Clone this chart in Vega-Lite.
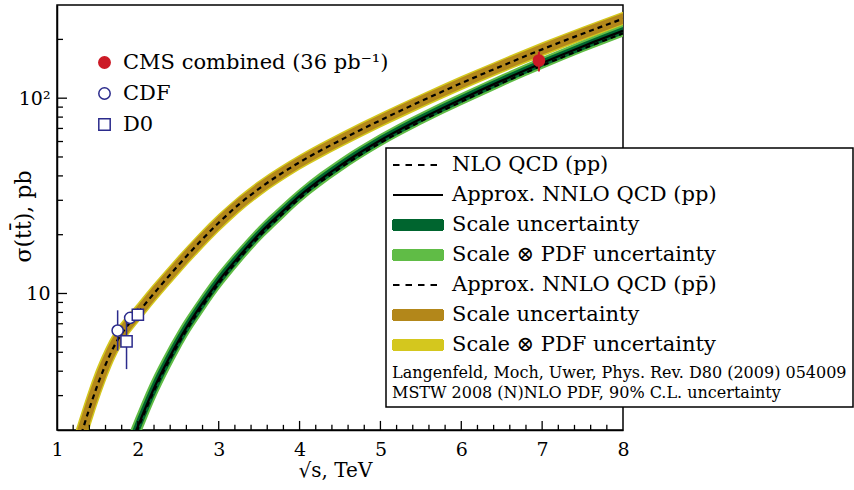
{
  "$schema": "https://vega.github.io/schema/vega-lite/v6.json",
  "width": 566,
  "height": 425,
  "autosize": {"type": "none"},
  "padding": {"left": 57, "top": 5, "right": 231, "bottom": 60},
  "background": "white",
  "config": {
    "view": {"stroke": "black", "strokeWidth": 1.5},
    "font": "DejaVu Serif",
    "axis": {"domainColor": "black", "domainWidth": 1.5, "grid": false, "ticks": false}
  },
  "resolve": {"axis": {"x": "independent", "y": "independent"}},
  "datasets": {
    "ppbar": [
      {"x": 1.2, "c": 1.413, "s_lo": 1.162, "s_hi": 1.718, "p_lo": 1.096, "p_hi": 1.821},
      {"x": 1.25, "c": 1.641, "s_lo": 1.349, "s_hi": 1.995, "p_lo": 1.273, "p_hi": 2.115},
      {"x": 1.3, "c": 1.905, "s_lo": 1.567, "s_hi": 2.317, "p_lo": 1.478, "p_hi": 2.456},
      {"x": 1.4, "c": 2.570, "s_lo": 2.129, "s_hi": 3.103, "p_lo": 2.012, "p_hi": 3.283},
      {"x": 1.5, "c": 3.388, "s_lo": 2.854, "s_hi": 4.023, "p_lo": 2.710, "p_hi": 4.236},
      {"x": 1.6, "c": 4.315, "s_lo": 3.708, "s_hi": 5.022, "p_lo": 3.543, "p_hi": 5.256},
      {"x": 1.7, "c": 5.309, "s_lo": 4.668, "s_hi": 6.038, "p_lo": 4.491, "p_hi": 6.276},
      {"x": 1.8, "c": 6.237, "s_lo": 5.602, "s_hi": 6.945, "p_lo": 5.424, "p_hi": 7.173},
      {"x": 1.9, "c": 7.079, "s_lo": 6.452, "s_hi": 7.767, "p_lo": 6.276, "p_hi": 7.985},
      {"x": 2.0, "c": 7.943, "s_lo": 7.261, "s_hi": 8.690, "p_lo": 7.069, "p_hi": 8.927},
      {"x": 2.1, "c": 8.933, "s_lo": 8.163, "s_hi": 9.777, "p_lo": 7.943, "p_hi": 10.05},
      {"x": 2.25, "c": 10.59, "s_lo": 9.694, "s_hi": 11.57, "p_lo": 9.441, "p_hi": 11.89},
      {"x": 2.5, "c": 13.93, "s_lo": 12.77, "s_hi": 15.20, "p_lo": 12.44, "p_hi": 15.61},
      {"x": 2.75, "c": 18.07, "s_lo": 16.60, "s_hi": 19.67, "p_lo": 16.18, "p_hi": 20.18},
      {"x": 3.0, "c": 23.01, "s_lo": 21.21, "s_hi": 24.98, "p_lo": 20.69, "p_hi": 25.60},
      {"x": 3.25, "c": 28.58, "s_lo": 26.45, "s_hi": 30.88, "p_lo": 25.84, "p_hi": 31.60},
      {"x": 3.5, "c": 34.43, "s_lo": 31.99, "s_hi": 37.07, "p_lo": 31.29, "p_hi": 37.91},
      {"x": 3.75, "c": 40.55, "s_lo": 37.77, "s_hi": 43.53, "p_lo": 36.98, "p_hi": 44.46},
      {"x": 4.0, "c": 46.99, "s_lo": 43.88, "s_hi": 50.31, "p_lo": 42.98, "p_hi": 51.37},
      {"x": 4.5, "c": 60.81, "s_lo": 56.89, "s_hi": 65.01, "p_lo": 55.76, "p_hi": 66.34},
      {"x": 5.0, "c": 77.09, "s_lo": 72.21, "s_hi": 82.31, "p_lo": 70.79, "p_hi": 83.95},
      {"x": 5.5, "c": 96.38, "s_lo": 90.33, "s_hi": 102.8, "p_lo": 88.58, "p_hi": 104.9},
      {"x": 6.0, "c": 119.4, "s_lo": 112.0, "s_hi": 127.3, "p_lo": 109.8, "p_hi": 129.8},
      {"x": 6.5, "c": 146.2, "s_lo": 137.2, "s_hi": 155.9, "p_lo": 134.6, "p_hi": 158.9},
      {"x": 7.0, "c": 177.8, "s_lo": 166.9, "s_hi": 189.5, "p_lo": 163.7, "p_hi": 193.1},
      {"x": 7.5, "c": 213.8, "s_lo": 200.7, "s_hi": 227.8, "p_lo": 196.9, "p_hi": 232.2},
      {"x": 8.0, "c": 255.3, "s_lo": 239.7, "s_hi": 271.9, "p_lo": 235.1, "p_hi": 277.2}
    ],
    "pp": [
      {"x": 1.9, "c": 1.660, "nlo": 1.610, "s_lo": 1.489, "s_hi": 1.849, "p_lo": 1.400, "p_hi": 1.967},
      {"x": 1.95, "c": 1.862, "nlo": 1.806, "s_lo": 1.671, "s_hi": 2.075, "p_lo": 1.571, "p_hi": 2.208},
      {"x": 2.0, "c": 2.089, "nlo": 2.026, "s_lo": 1.875, "s_hi": 2.328, "p_lo": 1.762, "p_hi": 2.477},
      {"x": 2.1, "c": 2.630, "nlo": 2.551, "s_lo": 2.365, "s_hi": 2.925, "p_lo": 2.226, "p_hi": 3.108},
      {"x": 2.2, "c": 3.273, "nlo": 3.175, "s_lo": 2.964, "s_hi": 3.614, "p_lo": 2.802, "p_hi": 3.825},
      {"x": 2.3, "c": 3.981, "nlo": 3.862, "s_lo": 3.630, "s_hi": 4.367, "p_lo": 3.442, "p_hi": 4.604},
      {"x": 2.4, "c": 4.786, "nlo": 4.642, "s_lo": 4.385, "s_hi": 5.225, "p_lo": 4.169, "p_hi": 5.495},
      {"x": 2.5, "c": 5.689, "nlo": 5.518, "s_lo": 5.231, "s_hi": 6.184, "p_lo": 4.989, "p_hi": 6.486},
      {"x": 2.6, "c": 6.683, "nlo": 6.483, "s_lo": 6.185, "s_hi": 7.221, "p_lo": 5.918, "p_hi": 7.548},
      {"x": 2.8, "c": 8.913, "nlo": 8.646, "s_lo": 8.285, "s_hi": 9.590, "p_lo": 7.946, "p_hi": 9.998},
      {"x": 3.0, "c": 11.61, "nlo": 11.26, "s_lo": 10.85, "s_hi": 12.43, "p_lo": 10.44, "p_hi": 12.92},
      {"x": 3.25, "c": 15.49, "nlo": 15.03, "s_lo": 14.54, "s_hi": 16.50, "p_lo": 14.03, "p_hi": 17.11},
      {"x": 3.5, "c": 20.18, "nlo": 19.57, "s_lo": 19.02, "s_hi": 21.42, "p_lo": 18.39, "p_hi": 22.16},
      {"x": 3.75, "c": 25.41, "nlo": 24.65, "s_lo": 24.00, "s_hi": 26.90, "p_lo": 23.23, "p_hi": 27.79},
      {"x": 4.0, "c": 31.62, "nlo": 30.67, "s_lo": 29.98, "s_hi": 33.36, "p_lo": 29.08, "p_hi": 34.39},
      {"x": 4.5, "c": 45.19, "nlo": 43.83, "s_lo": 42.97, "s_hi": 47.52, "p_lo": 41.75, "p_hi": 48.91},
      {"x": 5.0, "c": 60.95, "nlo": 59.12, "s_lo": 58.10, "s_hi": 63.94, "p_lo": 56.53, "p_hi": 65.72},
      {"x": 5.5, "c": 78.52, "nlo": 76.16, "s_lo": 74.99, "s_hi": 82.25, "p_lo": 73.03, "p_hi": 84.45},
      {"x": 6.0, "c": 98.86, "nlo": 95.89, "s_lo": 94.43, "s_hi": 103.5, "p_lo": 91.99, "p_hi": 106.2},
      {"x": 6.5, "c": 123.0, "nlo": 119.3, "s_lo": 117.6, "s_hi": 128.7, "p_lo": 114.6, "p_hi": 132.1},
      {"x": 7.0, "c": 151.4, "nlo": 146.9, "s_lo": 144.7, "s_hi": 158.3, "p_lo": 141.1, "p_hi": 162.4},
      {"x": 7.5, "c": 184.1, "nlo": 178.6, "s_lo": 176.1, "s_hi": 192.4, "p_lo": 171.7, "p_hi": 197.4},
      {"x": 8.0, "c": 221.3, "nlo": 214.7, "s_lo": 211.7, "s_hi": 231.3, "p_lo": 206.4, "p_hi": 237.3}
    ],
    "exp": [
      {"exp": "CMS", "x": 6.96, "y": 156, "lo": 137, "hi": 173},
      {"exp": "CDF", "x": 1.75, "y": 6.46, "lo": 5.1, "hi": 8.2},
      {"exp": "CDF", "x": 1.905, "y": 7.5, "lo": 7.02, "hi": 7.98},
      {"exp": "D0", "x": 1.86, "y": 5.69, "lo": 4.1, "hi": 7.3},
      {"exp": "D0", "x": 2.0, "y": 7.78, "lo": 7.2, "hi": 8.4}
    ],
    "xmajor": [{"v": 2}, {"v": 3}, {"v": 4}, {"v": 5}, {"v": 6}, {"v": 7}],
    "xminor": [
      {"v": 1.2}, {"v": 1.4}, {"v": 1.6}, {"v": 1.8}, {"v": 2.2}, {"v": 2.4}, {"v": 2.6}, {"v": 2.8},
      {"v": 3.2}, {"v": 3.4}, {"v": 3.6}, {"v": 3.8}, {"v": 4.2}, {"v": 4.4}, {"v": 4.6}, {"v": 4.8},
      {"v": 5.2}, {"v": 5.4}, {"v": 5.6}, {"v": 5.8}, {"v": 6.2}, {"v": 6.4}, {"v": 6.6}, {"v": 6.8},
      {"v": 7.2}, {"v": 7.4}, {"v": 7.6}, {"v": 7.8}
    ],
    "ymajor": [{"v": 10}, {"v": 100}],
    "yminor": [
      {"v": 3}, {"v": 4}, {"v": 5}, {"v": 6}, {"v": 7}, {"v": 8}, {"v": 9},
      {"v": 20}, {"v": 30}, {"v": 40}, {"v": 50}, {"v": 60}, {"v": 70}, {"v": 80}, {"v": 90}, {"v": 200}
    ]
  },
  "layer": [
    {
      "data": {"name": "ppbar"},
      "mark": {"type": "area", "clip": true, "interpolate": "monotone"},
      "encoding": {
        "x": {
          "field": "x", "type": "quantitative",
          "scale": {"domain": [1, 8], "nice": false, "zero": false},
          "axis": {
            "orient": "bottom",
            "values": [1, 2, 3, 4, 5, 6, 7, 8],
            "title": "√s, TeV",
            "format": "d",
            "ticks": false,
            "labelPadding": 10,
            "labelFont": "DejaVu Serif", "labelFontSize": 19, "labelColor": "black",
            "labelFlush": false, "labelOverlap": false,
            "titleFont": "DejaVu Serif", "titleFontSize": 20, "titleFontWeight": "normal", "titleColor": "black",
            "titleX": 278, "titleY": 46, "titleBaseline": "alphabetic"
          }
        },
        "y": {
          "field": "p_lo", "type": "quantitative",
          "scale": {"type": "log", "domain": [2, 300], "nice": false},
          "axis": {
            "orient": "left",
            "values": [10, 100],
            "title": "σ(tt̄), pb",
            "labelExpr": "datum.value == 100 ? '10²' : '10'",
            "ticks": false,
            "labelPadding": 7,
            "labelFont": "DejaVu Serif", "labelFontSize": 19, "labelColor": "black",
            "labelFlush": false, "labelOverlap": false,
            "titleFont": "DejaVu Serif", "titleFontSize": 22, "titleFontWeight": "normal", "titleColor": "black",
            "titleX": -27, "titleY": 211, "titleAngle": 270, "titleBaseline": "alphabetic"
          }
        },
        "y2": {"field": "p_hi"},
        "color": {
          "datum": "k7", "type": "nominal",
          "scale": {
            "domain": ["k1", "k2", "k3", "k4", "k5", "k6", "k7"],
            "range": ["black", "black", "#00652f", "#60bc46", "black", "#b3871a", "#d4c71e"]
          },
          "legend": {
            "orient": "none", "legendX": 329, "legendY": 143, "direction": "vertical",
            "title": ["Langenfeld, Moch, Uwer, Phys. Rev. D80 (2009) 054009", "MSTW 2008 (N)NLO PDF, 90% C.L. uncertainty"],
            "titleOrient": "bottom", "titleAnchor": "start", "titleAlign": "left",
            "titleFont": "DejaVu Serif", "titleFontSize": 16, "titleFontWeight": "normal", "titleColor": "black",
            "titleLineHeight": 20, "titlePadding": 10, "titleLimit": 600,
            "labelFont": "DejaVu Serif", "labelFontSize": 21, "labelColor": "black", "labelLimit": 500, "labelOffset": 38,
            "labelExpr": "datum.label == 'k1' ? 'NLO QCD (pp)' : datum.label == 'k2' ? 'Approx. NNLO QCD (pp)' : datum.label == 'k3' ? 'Scale uncertainty' : datum.label == 'k4' ? 'Scale ⊗ PDF uncertainty' : datum.label == 'k5' ? 'Approx. NNLO QCD (pp̄)' : datum.label == 'k6' ? 'Scale uncertainty' : 'Scale ⊗ PDF uncertainty'",
            "symbolSize": 400, "rowPadding": 9, "padding": 6,
            "strokeColor": "black", "fillColor": "white",
            "encode": {
              "legend": {"update": {"strokeWidth": {"value": 1.5}}},
              "symbols": {
                "update": {
                  "shape": {"signal": "(datum.value == 'k1' || datum.value == 'k2' || datum.value == 'k5') ? 'M-1,0H4' : 'M-1,-0.5H4V0.5H-1Z'"},
                  "strokeWidth": {"value": 2},
                  "strokeDash": {"signal": "(datum.value == 'k1' || datum.value == 'k5') ? [6.5, 6] : [1, 0]"},
                  "opacity": {"value": 1}
                }
              }
            }
          }
        }
      }
    },
    {
      "data": {"name": "ppbar"},
      "mark": {"type": "area", "clip": true, "interpolate": "monotone"},
      "encoding": {
        "x": {"field": "x", "type": "quantitative", "axis": null},
        "y": {"field": "s_lo", "type": "quantitative", "axis": null},
        "y2": {"field": "s_hi"},
        "color": {"datum": "k6", "type": "nominal"}
      }
    },
    {
      "data": {"name": "pp"},
      "mark": {"type": "area", "clip": true, "interpolate": "monotone"},
      "encoding": {
        "x": {"field": "x", "type": "quantitative", "axis": null},
        "y": {"field": "p_lo", "type": "quantitative", "axis": null},
        "y2": {"field": "p_hi"},
        "color": {"datum": "k4", "type": "nominal"}
      }
    },
    {
      "data": {"name": "pp"},
      "mark": {"type": "area", "clip": true, "interpolate": "monotone"},
      "encoding": {
        "x": {"field": "x", "type": "quantitative", "axis": null},
        "y": {"field": "s_lo", "type": "quantitative", "axis": null},
        "y2": {"field": "s_hi"},
        "color": {"datum": "k3", "type": "nominal"}
      }
    },
    {
      "data": {"name": "pp"},
      "mark": {"type": "line", "clip": true, "interpolate": "monotone", "strokeWidth": 2.2, "strokeDash": [5, 4]},
      "encoding": {
        "x": {"field": "x", "type": "quantitative", "axis": null},
        "y": {"field": "nlo", "type": "quantitative", "axis": null},
        "color": {"datum": "k1", "type": "nominal"}
      }
    },
    {
      "data": {"name": "pp"},
      "mark": {"type": "line", "clip": true, "interpolate": "monotone", "strokeWidth": 2.2},
      "encoding": {
        "x": {"field": "x", "type": "quantitative", "axis": null},
        "y": {"field": "c", "type": "quantitative", "axis": null},
        "color": {"datum": "k2", "type": "nominal"}
      }
    },
    {
      "data": {"name": "ppbar"},
      "mark": {"type": "line", "clip": true, "interpolate": "monotone", "strokeWidth": 2.2, "strokeDash": [5, 4]},
      "encoding": {
        "x": {"field": "x", "type": "quantitative", "axis": null},
        "y": {"field": "c", "type": "quantitative", "axis": null},
        "color": {"datum": "k5", "type": "nominal"}
      }
    },
    {
      "data": {"name": "exp"},
      "transform": [{"filter": "datum.exp == 'CMS'"}],
      "mark": {"type": "rule", "clip": true, "stroke": "#cc1a26", "strokeWidth": 2},
      "encoding": {
        "x": {"field": "x", "type": "quantitative", "axis": null},
        "y": {"field": "lo", "type": "quantitative", "axis": null},
        "y2": {"field": "hi"}
      }
    },
    {
      "data": {"name": "exp"},
      "transform": [{"filter": "datum.exp != 'CMS'"}],
      "mark": {"type": "rule", "clip": true, "stroke": "#2b2b8c", "strokeWidth": 1.5},
      "encoding": {
        "x": {"field": "x", "type": "quantitative", "axis": null},
        "y": {"field": "lo", "type": "quantitative", "axis": null},
        "y2": {"field": "hi"}
      }
    },
    {
      "data": {"name": "exp"},
      "mark": {"type": "point", "filled": true, "opacity": 1, "strokeWidth": 1.5, "size": 125},
      "encoding": {
        "x": {"field": "x", "type": "quantitative", "axis": null},
        "y": {"field": "y", "type": "quantitative", "axis": null},
        "shape": {
          "field": "exp", "type": "nominal",
          "scale": {"domain": ["CMS", "CDF", "D0"], "range": ["circle", "circle", "square"]},
          "legend": {
            "orient": "none", "legendX": 37, "legendY": 47, "title": null,
            "labelFont": "DejaVu Serif", "labelFontSize": 21, "labelColor": "black", "labelLimit": 400, "labelOffset": 8,
            "labelExpr": "datum.label == 'CMS' ? 'CMS combined (36 pb⁻¹)' : datum.label",
            "symbolSize": 130, "symbolStrokeWidth": 1.5, "rowPadding": 9, "padding": 0
          }
        },
        "fill": {
          "field": "exp", "type": "nominal",
          "scale": {"domain": ["CMS", "CDF", "D0"], "range": ["#cc1a26", "white", "white"]},
          "legend": {
            "orient": "none", "legendX": 37, "legendY": 47, "title": null,
            "labelFont": "DejaVu Serif", "labelFontSize": 21, "labelColor": "black", "labelLimit": 400, "labelOffset": 8,
            "labelExpr": "datum.label == 'CMS' ? 'CMS combined (36 pb⁻¹)' : datum.label",
            "symbolSize": 130, "symbolStrokeWidth": 1.5, "rowPadding": 9, "padding": 0
          }
        },
        "stroke": {
          "field": "exp", "type": "nominal",
          "scale": {"domain": ["CMS", "CDF", "D0"], "range": ["#cc1a26", "#2b2b8c", "#2b2b8c"]},
          "legend": {
            "orient": "none", "legendX": 37, "legendY": 47, "title": null,
            "labelFont": "DejaVu Serif", "labelFontSize": 21, "labelColor": "black", "labelLimit": 400, "labelOffset": 8,
            "labelExpr": "datum.label == 'CMS' ? 'CMS combined (36 pb⁻¹)' : datum.label",
            "symbolSize": 130, "symbolStrokeWidth": 1.5, "rowPadding": 9, "padding": 0
          }
        }
      }
    },
    {
      "data": {"name": "xminor"},
      "mark": {"type": "rule", "clip": true, "color": "black", "strokeWidth": 1.3, "opacity": 1},
      "encoding": {
        "x": {"field": "v", "type": "quantitative", "axis": null},
        "y": {"datum": 2, "type": "quantitative", "axis": null},
        "y2": {"datum": 2.125}
      }
    },
    {
      "data": {"name": "xmajor"},
      "mark": {"type": "rule", "clip": true, "color": "black", "strokeWidth": 1.3, "opacity": 1},
      "encoding": {
        "x": {"field": "v", "type": "quantitative", "axis": null},
        "y": {"datum": 2, "type": "quantitative", "axis": null},
        "y2": {"datum": 2.226}
      }
    },
    {
      "data": {"name": "yminor"},
      "mark": {"type": "rule", "clip": true, "color": "black", "strokeWidth": 1.3, "opacity": 1},
      "encoding": {
        "y": {"field": "v", "type": "quantitative", "axis": null},
        "x": {"datum": 1, "type": "quantitative", "axis": null},
        "x2": {"datum": 1.074}
      }
    },
    {
      "data": {"name": "ymajor"},
      "mark": {"type": "rule", "clip": true, "color": "black", "strokeWidth": 1.3, "opacity": 1},
      "encoding": {
        "y": {"field": "v", "type": "quantitative", "axis": null},
        "x": {"datum": 1, "type": "quantitative", "axis": null},
        "x2": {"datum": 1.124}
      }
    }
  ]
}
